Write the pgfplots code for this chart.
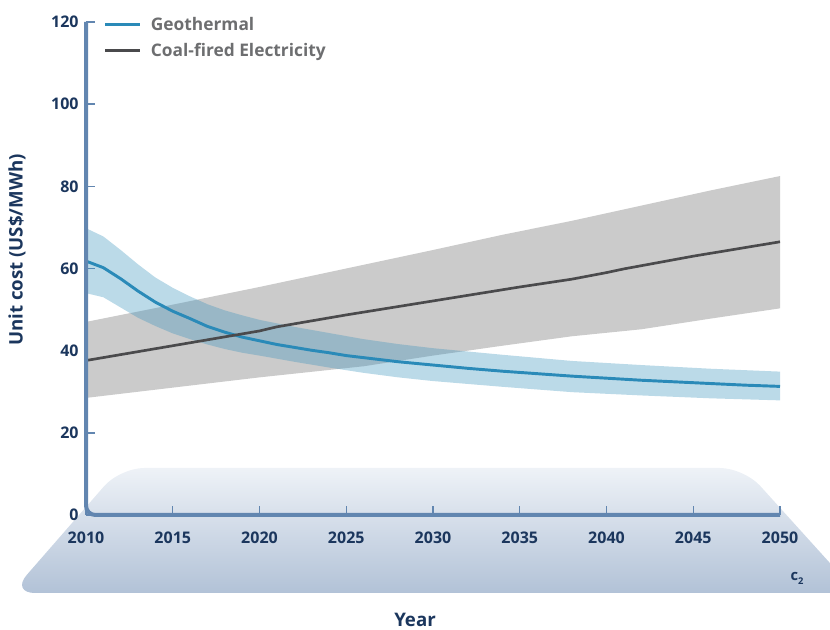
\documentclass[border=0pt]{standalone}
\usepackage{pgfplots}
\pgfplotsset{compat=1.18}
\usepackage{fontspec}
\setmainfont{Open Sans}

\definecolor{axisblue}{HTML}{6286B0}
\definecolor{navy}{HTML}{1B365D}
\definecolor{legendgrey}{HTML}{6D6E70}
\definecolor{geoline}{HTML}{2A8AB8}
\definecolor{geoband}{HTML}{3D94BD}
\definecolor{coalline}{HTML}{4A4A4C}
\definecolor{coalband}{HTML}{CBCBCB}
\definecolor{floortop}{HTML}{EEF2F7}
\definecolor{floorbot}{HTML}{B2C2D7}

\begin{document}
\begin{tikzpicture}[x=0.75pt,y=0.75pt]
% decorative floor under the axis
\begin{scope}
  \clip (-86,-115) rectangle (744,515);
  \shade[top color=floortop, bottom color=floorbot, rounded corners=18pt]
    (-75,-78) -- (34,47) -- (658,47) -- (771,-78) -- cycle;
\end{scope}

\begin{axis}[
    at={(0,0)}, anchor=south west,
    scale only axis,
    width=520.5pt, height=369.75pt,
    xmin=2010, xmax=2050, ymin=0, ymax=120,
    xtick={2010,2015,...,2050},
    ytick={0,20,...,120},
    axis lines*=left,
    axis line style={draw=none},
    tick align=inside,
    major tick length=6.5pt,
    tick style={axisblue, line width=1.1pt},
    clip=false,
    /pgf/number format/assume math mode=true,
    /pgf/number format/set thousands separator={},
    ticklabel style={font=\bfseries\fontsize{12}{14}\selectfont, text=navy},
    xticklabel style={yshift=-9pt},
    yticklabel style={xshift=-2pt},
    legend style={at={(rel axis cs:0.02,1.021)}, anchor=north west,
        draw=none, fill=none, row sep=3.8pt,
        font=\bfseries\fontsize{13}{15}\selectfont, text=legendgrey},
    legend cell align=left,
    legend image code/.code={\draw[#1, line width=2pt] (0pt,0pt) -- (26pt,0pt); \path (31pt,0pt);},
]
% coal-fired band
\addplot[draw=none, fill=coalband, forget plot] coordinates {
  (2010,47) (2015,51.2) (2020,55.5) (2025,60) (2030,64.5) (2034,68.2) (2038,71.6)
  (2042,75.3) (2046,79) (2050,82.5)
  (2050,50.3) (2046,47.8) (2042,45.2) (2038,43.5) (2034,41.2) (2030,38.8)
  (2026,36.2) (2020,33.5) (2015,31) (2010,28.5)
};
% geothermal band
\addplot[draw=none, fill=geoband, fill opacity=0.35, forget plot] coordinates {
  (2010,69.8) (2011,67.8) (2012,64.5) (2013,61) (2014,57.8) (2015,55.3) (2016,53.2)
  (2017,51.3) (2018,49.8) (2019,48.6) (2020,47.5) (2022,45.8) (2024,44.3)
  (2026,42.8) (2028,41.6) (2030,40.6) (2034,39) (2038,37.5) (2042,36.5)
  (2046,35.6) (2050,34.9)
  (2050,27.9) (2046,28.4) (2042,29.1) (2038,29.9) (2034,31.2) (2030,32.6)
  (2028,33.5) (2026,34.6) (2024,35.9) (2022,37.3) (2020,38.8) (2019,39.5)
  (2018,40.4) (2017,41.5) (2016,42.8) (2015,44.2) (2014,46) (2013,48)
  (2012,50.5) (2011,53) (2010,54)
};
\addplot[geoline, line width=2.2pt] coordinates {
  (2010,61.8) (2011,60.2) (2012,57.5) (2013,54.5) (2014,51.8) (2015,49.6)
  (2016,47.8) (2017,45.9) (2018,44.5) (2019,43.3) (2020,42.4) (2021,41.5)
  (2022,40.8) (2023,40.1) (2024,39.5) (2025,38.8) (2026,38.3) (2027,37.8)
  (2028,37.3) (2029,36.9) (2030,36.5) (2032,35.7) (2034,35.0) (2036,34.4)
  (2038,33.8) (2040,33.3) (2042,32.8) (2044,32.4) (2046,32.0) (2048,31.6)
  (2050,31.3)
};
\addlegendentry{Geothermal}
\addplot[coalline, line width=2pt] coordinates {
  (2010,37.6) (2015,41.2) (2020,44.8) (2021,45.8) (2025,48.7) (2030,52.1)
  (2035,55.5) (2038,57.4) (2040,59) (2041,59.9) (2045,63) (2050,66.5)
};
\addlegendentry{Coal-fired Electricity}
% axis line with rounded corner
\draw[axisblue, line width=3pt, rounded corners=7pt]
  (axis cs:2010,120) -- (axis cs:2010,0) -- (axis cs:2050,0);
\end{axis}

\node[rotate=90, font=\bfseries\fontsize{14}{16}\selectfont, text=navy] at (-69,265) {Unit cost (US\$/MWh)};
\node[font=\bfseries\fontsize{14}{16}\selectfont, text=navy] at (329,-105) {Year};
\node[font=\bfseries\fontsize{11}{13}\selectfont, text=navy] at (711,-63) {c\raisebox{-3pt}{\scriptsize 2}};

\pgfresetboundingbox
\useasboundingbox (-86,-115) rectangle (744,515);
\end{tikzpicture}
\end{document}
